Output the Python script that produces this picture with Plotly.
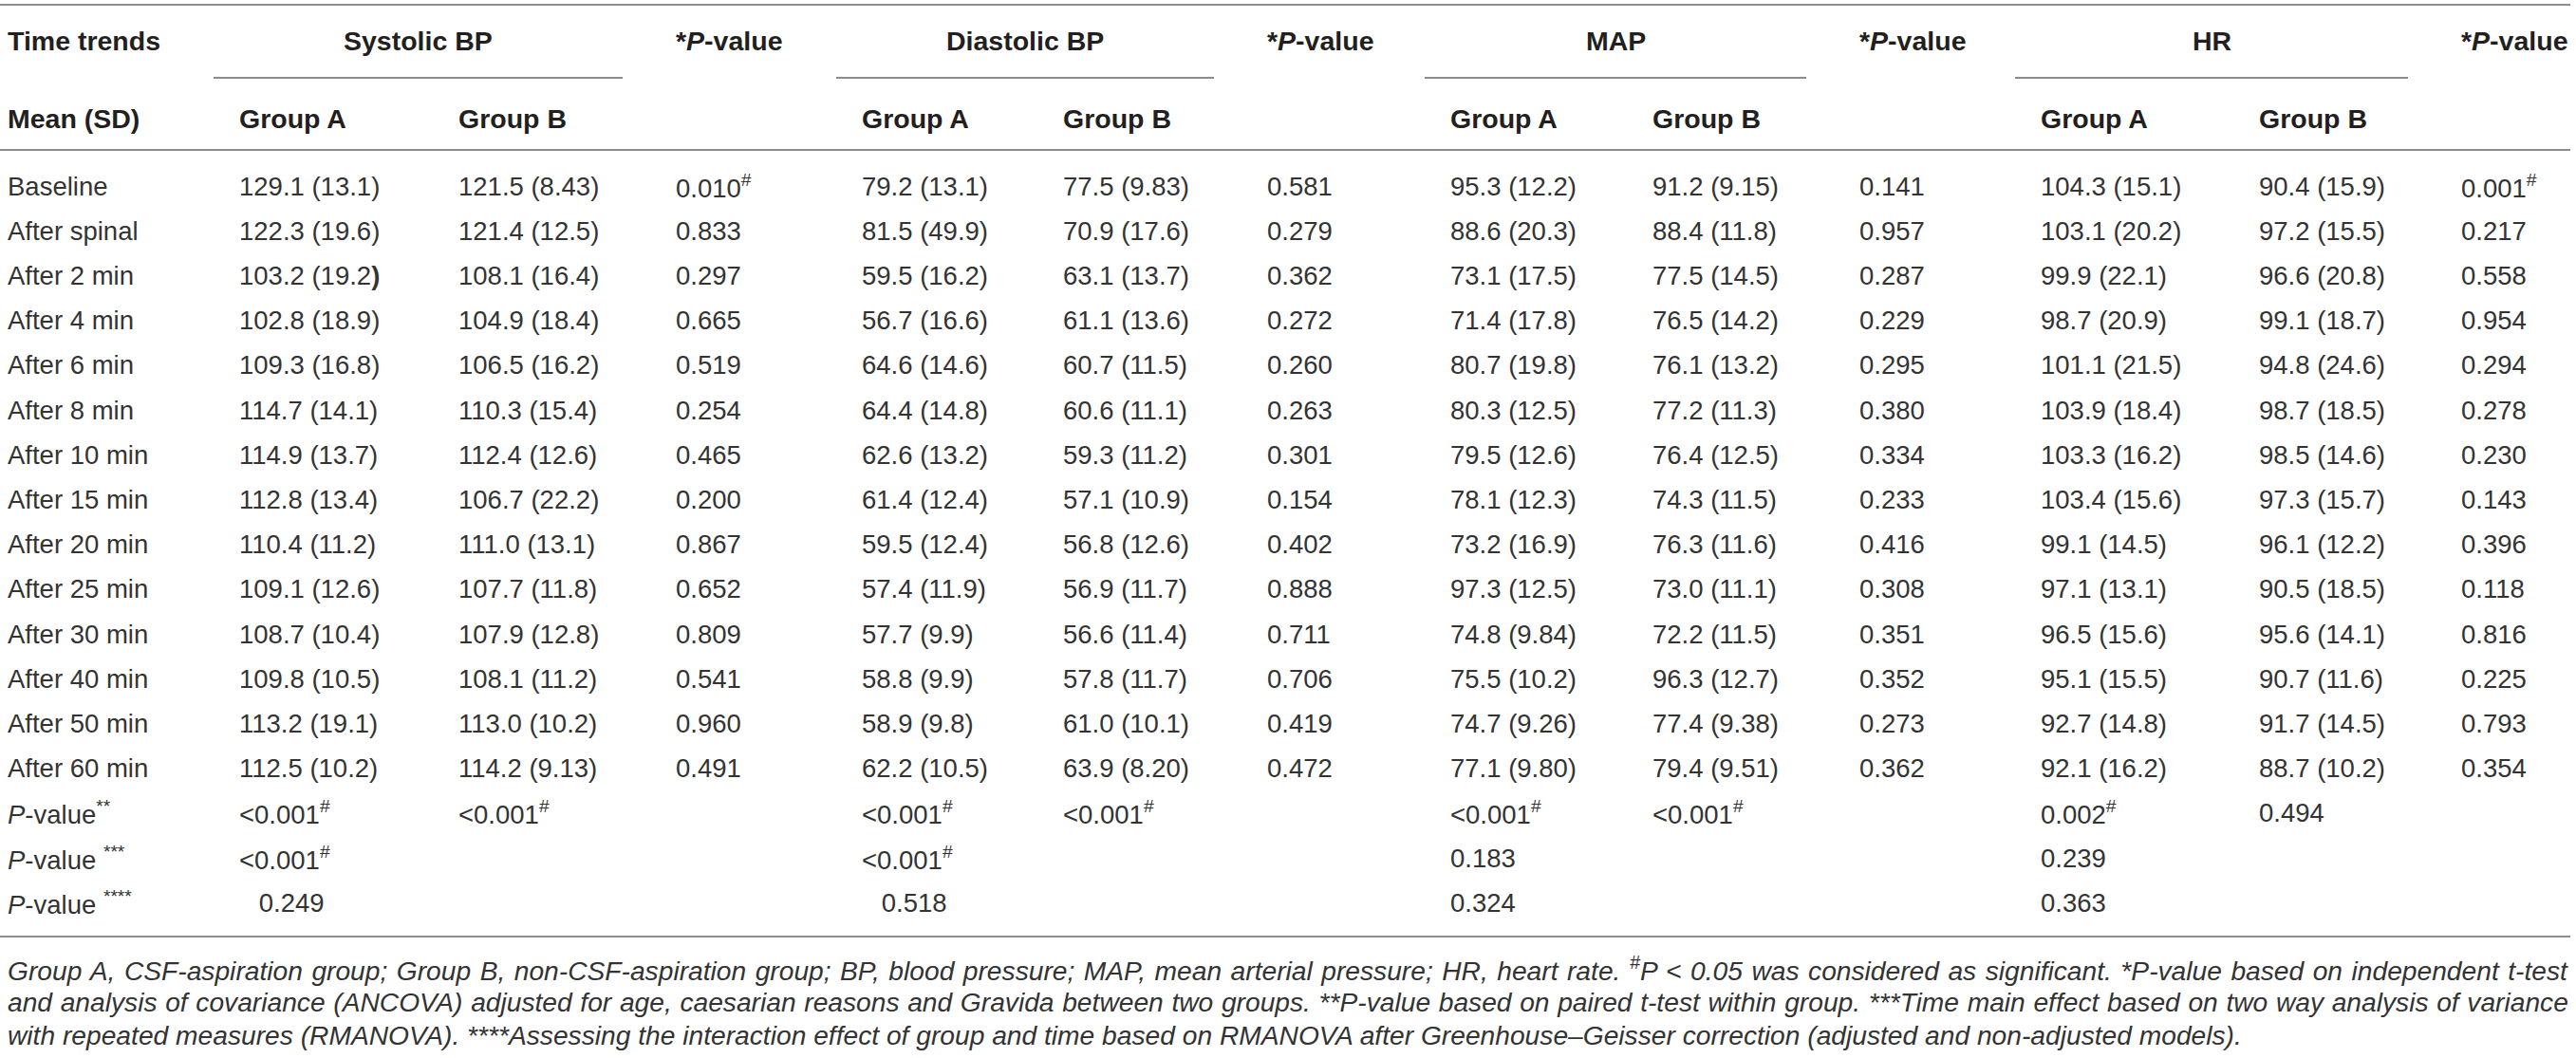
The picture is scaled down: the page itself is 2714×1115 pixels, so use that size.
import plotly.graph_objects as go

# table content
time_points = [
    "Baseline", "After spinal", "After 2 min", "After 4 min", "After 6 min",
    "After 8 min", "After 10 min", "After 15 min", "After 20 min", "After 25 min",
    "After 30 min", "After 40 min", "After 50 min", "After 60 min",
]

sbp_a = ["129.1 (13.1)", "122.3 (19.6)", "103.2 (19.2<b>)</b>", "102.8 (18.9)", "109.3 (16.8)",
         "114.7 (14.1)", "114.9 (13.7)", "112.8 (13.4)", "110.4 (11.2)", "109.1 (12.6)",
         "108.7 (10.4)", "109.8 (10.5)", "113.2 (19.1)", "112.5 (10.2)"]
sbp_b = ["121.5 (8.43)", "121.4 (12.5)", "108.1 (16.4)", "104.9 (18.4)", "106.5 (16.2)",
         "110.3 (15.4)", "112.4 (12.6)", "106.7 (22.2)", "111.0 (13.1)", "107.7 (11.8)",
         "107.9 (12.8)", "108.1 (11.2)", "113.0 (10.2)", "114.2 (9.13)"]
sbp_p = ["0.010#", "0.833", "0.297", "0.665", "0.519", "0.254", "0.465", "0.200",
         "0.867", "0.652", "0.809", "0.541", "0.960", "0.491"]

dbp_a = ["79.2 (13.1)", "81.5 (49.9)", "59.5 (16.2)", "56.7 (16.6)", "64.6 (14.6)",
         "64.4 (14.8)", "62.6 (13.2)", "61.4 (12.4)", "59.5 (12.4)", "57.4 (11.9)",
         "57.7 (9.9)", "58.8 (9.9)", "58.9 (9.8)", "62.2 (10.5)"]
dbp_b = ["77.5 (9.83)", "70.9 (17.6)", "63.1 (13.7)", "61.1 (13.6)", "60.7 (11.5)",
         "60.6 (11.1)", "59.3 (11.2)", "57.1 (10.9)", "56.8 (12.6)", "56.9 (11.7)",
         "56.6 (11.4)", "57.8 (11.7)", "61.0 (10.1)", "63.9 (8.20)"]
dbp_p = ["0.581", "0.279", "0.362", "0.272", "0.260", "0.263", "0.301", "0.154",
         "0.402", "0.888", "0.711", "0.706", "0.419", "0.472"]

map_a = ["95.3 (12.2)", "88.6 (20.3)", "73.1 (17.5)", "71.4 (17.8)", "80.7 (19.8)",
         "80.3 (12.5)", "79.5 (12.6)", "78.1 (12.3)", "73.2 (16.9)", "97.3 (12.5)",
         "74.8 (9.84)", "75.5 (10.2)", "74.7 (9.26)", "77.1 (9.80)"]
map_b = ["91.2 (9.15)", "88.4 (11.8)", "77.5 (14.5)", "76.5 (14.2)", "76.1 (13.2)",
         "77.2 (11.3)", "76.4 (12.5)", "74.3 (11.5)", "76.3 (11.6)", "73.0 (11.1)",
         "72.2 (11.5)", "96.3 (12.7)", "77.4 (9.38)", "79.4 (9.51)"]
map_p = ["0.141", "0.957", "0.287", "0.229", "0.295", "0.380", "0.334", "0.233",
         "0.416", "0.308", "0.351", "0.352", "0.273", "0.362"]

hr_a = ["104.3 (15.1)", "103.1 (20.2)", "99.9 (22.1)", "98.7 (20.9)", "101.1 (21.5)",
        "103.9 (18.4)", "103.3 (16.2)", "103.4 (15.6)", "99.1 (14.5)", "97.1 (13.1)",
        "96.5 (15.6)", "95.1 (15.5)", "92.7 (14.8)", "92.1 (16.2)"]
hr_b = ["90.4 (15.9)", "97.2 (15.5)", "96.6 (20.8)", "99.1 (18.7)", "94.8 (24.6)",
        "98.7 (18.5)", "98.5 (14.6)", "97.3 (15.7)", "96.1 (12.2)", "90.5 (18.5)",
        "95.6 (14.1)", "90.7 (11.6)", "91.7 (14.5)", "88.7 (10.2)"]
hr_p = ["0.001#", "0.217", "0.558", "0.954", "0.294", "0.278", "0.230", "0.143",
        "0.396", "0.118", "0.816", "0.225", "0.793", "0.354"]

# within-group / RMANOVA rows: one entry per column after the label column
test_labels = ["<i>P</i>-value<sup>**</sup>", "<i>P</i>-value <sup>***</sup>",
               "<i>P</i>-value <sup>****</sup>"]
paired_p = ["<0.001#", "<0.001#", "", "<0.001#", "<0.001#", "",
            "<0.001#", "<0.001#", "", "0.002#", "0.494", ""]
time_p = ["<0.001#", "", "", "<0.001#", "", "", "0.183", "", "", "0.239", "", ""]
interaction_p = ["  0.249", "", "", "  0.518", "", "", "0.324", "", "", "0.363", "", ""]

measures = ["Systolic BP", "Diastolic BP", "MAP", "HR"]

footnote = [
    "Group A, CSF-aspiration group; Group B, non-CSF-aspiration group; BP, blood pressure; "
    "MAP, mean arterial pressure; HR, heart rate. <sup>#</sup>P < 0.05 was considered as "
    "significant. *P-value based on independent t-test",
    "and analysis of covariance (ANCOVA) adjusted for age, caesarian reasons and Gravida between "
    "two groups. **P-value based on paired t-test within group. ***Time main effect based on "
    "two way analysis of variance",
    "with repeated measures (RMANOVA). ****Assessing the interaction effect of group and time "
    "based on RMANOVA after Greenhouse\u2013Geisser correction (adjusted and non-adjusted models).",
]

W, H = 2714, 1115
col_x = [6, 250, 481, 710, 906, 1118, 1333, 1526, 1739, 1957, 2148, 2378, 2591]
row0, row_step = 196, 47.2
rule_color = "#8c8c8c"
text_color = "#333333"
head_color = "#231f20"
font = "Liberation Sans, Arial, sans-serif"


def fmt(s):
    s = s.replace("<0", "&lt;0")
    if s.endswith("#"):
        s = s[:-1] + "<sup>#</sup>"
    return s.replace("  ", "\u2007\u2009")


fig = go.Figure()


def cell(x, y, text, size=27.5, color=text_color, bold=False, anchor="left"):
    if bold:
        text = "<b>" + text + "</b>"
    fig.add_annotation(
        x=x, y=y, xref="x", yref="y", text=text, showarrow=False,
        xanchor=anchor, yanchor="middle", align=anchor,
        font=dict(family=font, size=size, color=color),
    )


def rule(x0, x1, y):
    fig.add_shape(type="line", xref="x", yref="y", x0=x0, x1=x1, y0=y, y1=y,
                  line=dict(color=rule_color, width=2))


# header
rule(0, W - 6, 5)
rule(0, W - 6, 158)
rule(0, W - 6, 987)

cell(col_x[0], 43, "Time trends", size=28.5, color=head_color, bold=True)
cell(col_x[0], 125, "Mean (SD)", size=28.5, color=head_color, bold=True)
for k, name in enumerate(measures):
    xa, xb, xp = col_x[1 + 3 * k], col_x[2 + 3 * k], col_x[3 + 3 * k]
    rule(xa - 25, xp - 54, 82)
    cell((xa - 25 + xp - 54) / 2, 43, name, size=28.5, color=head_color, bold=True,
         anchor="center")
    cell(xp, 43, "*<i>P</i>-value", size=28.5, color=head_color, bold=True)
    cell(xa, 125, "Group A", size=28.5, color=head_color, bold=True)
    cell(xb, 125, "Group B", size=28.5, color=head_color, bold=True)

# body
columns = [sbp_a, sbp_b, sbp_p, dbp_a, dbp_b, dbp_p, map_a, map_b, map_p, hr_a, hr_b, hr_p]
for i, label in enumerate(time_points):
    y = row0 + i * row_step
    cell(col_x[0], y, label)
    for j, col in enumerate(columns):
        cell(col_x[j + 1], y, fmt(col[i]))

for i, (label, vals) in enumerate(zip(test_labels, [paired_p, time_p, interaction_p])):
    y = row0 + (len(time_points) + i) * row_step
    cell(col_x[0], y, label)
    for j, v in enumerate(vals):
        if v:
            cell(col_x[j + 1], y, fmt(v))

# footnote
for i, line in enumerate(footnote):
    line = line.replace("< 0", "&lt; 0")
    cell(col_x[0], 1021 + i * 35, "<i>" + line + "</i>", size=28.2)

fig.update_layout(
    width=W, height=H,
    margin=dict(l=0, r=0, t=0, b=0),
    paper_bgcolor="white", plot_bgcolor="white",
    xaxis=dict(range=[0, W], visible=False, fixedrange=True),
    yaxis=dict(range=[H, 0], visible=False, fixedrange=True),
    showlegend=False,
)

# the first two footnote lines are justified in the source: stretch their word gaps
justify_js = """
document.body.style.margin = '0';
var gd = document.getElementById('{plot_id}');
var starts = ['Group A, CSF', 'and analysis of covariance'];
gd.querySelectorAll('text.annotation-text').forEach(function (t) {
  var s = t.textContent;
  if (!starts.some(function (p) { return s.indexOf(p) === 0; })) return;
  var n = (s.match(/ /g) || []).length;
  var r = t.getBoundingClientRect();
  var gap = (2706 - r.right) / n;
  t.style.wordSpacing = gap.toFixed(2) + 'px';
});
"""

fig.write_html("out.html", config={"displayModeBar": False}, post_script=justify_js)
